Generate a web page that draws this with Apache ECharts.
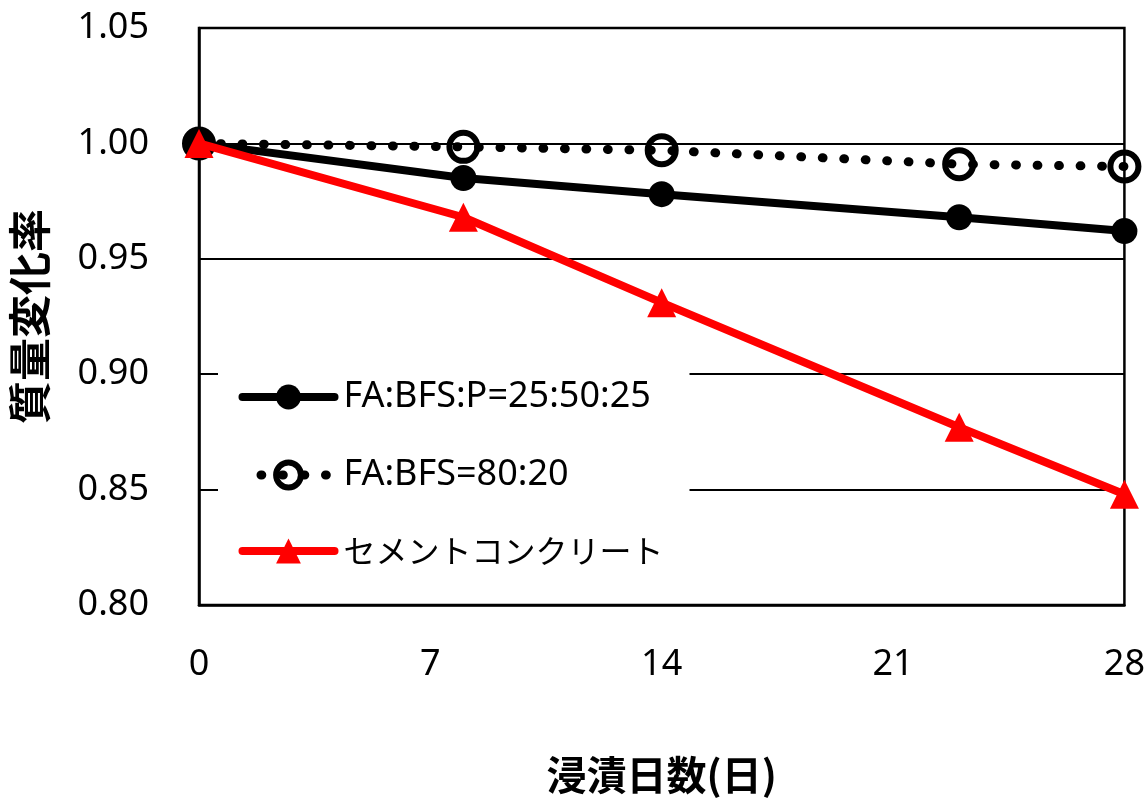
<!DOCTYPE html>
<html>
<head>
<meta charset="utf-8">
<script src="https://cdn.jsdelivr.net/npm/echarts@6/dist/echarts.min.js"></script>
<style>
  html, body { margin: 0; padding: 0; background: #fff; }
  #chart { width: 1148px; height: 800px; }
</style>
</head>
<body>
<div id="chart"></div>
<script>
// Immersion days for each measurement
const days = [0, 8, 14, 23, 28];

// Mass change ratio per mix
const fabfsp = [1.000, 0.985, 0.978, 0.968, 0.962];   // FA:BFS:P=25:50:25
const fabfs = [1.000, 0.9985, 0.997, 0.991, 0.990];   // FA:BFS=80:20
const cement = [1.000, 0.968, 0.931, 0.877, 0.848];   // セメントコンクリート

const seriesNames = ['FA:BFS:P=25:50:25', 'FA:BFS=80:20', 'セメントコンクリート'];

// Axis ticks
const xTicks = [0, 7, 14, 21, 28];
const yTicks = [0.80, 0.85, 0.90, 0.95, 1.00, 1.05];

const xTitle = '浸漬日数(日)';
const yTitle = '質量変化率';

const pairs = (xs, ys) => xs.map((x, i) => [x, ys[i]]);

const latin = "'Noto Sans', 'Noto Sans CJK JP', sans-serif";
const cjk = "'Noto Sans CJK JP', 'Noto Sans', sans-serif";

const dotted = [0.8, 20.7];

const chart = echarts.init(document.getElementById('chart'), null, { renderer: 'canvas' });

chart.setOption({
  animation: false,
  backgroundColor: '#fff',
  grid: {
    left: 195, top: 28, right: 20, bottom: 194,
    show: true, borderColor: '#000', borderWidth: 2.5, backgroundColor: 'transparent'
  },
  xAxis: {
    type: 'value',
    min: xTicks[0], max: xTicks[xTicks.length - 1],
    interval: xTicks[1] - xTicks[0],
    name: xTitle,
    nameLocation: 'middle',
    nameGap: 150,
    nameTextStyle: { fontFamily: cjk, fontWeight: 'bold', fontSize: 40, color: '#000' },
    axisLine: { show: true, onZero: false, lineStyle: { color: '#000', width: 2.5 } },
    axisTick: { show: false },
    splitLine: { show: false },
    axisLabel: { margin: 42, fontFamily: latin, fontSize: 36, color: '#000' }
  },
  yAxis: {
    type: 'value',
    min: yTicks[0], max: yTicks[yTicks.length - 1],
    interval: 0.05,
    name: yTitle,
    nameLocation: 'middle',
    nameGap: 148,
    nameRotate: 90,
    nameTextStyle: { fontFamily: cjk, fontWeight: 'bold', fontSize: 43, color: '#000' },
    axisLine: { show: true, lineStyle: { color: '#000', width: 2.5 } },
    axisTick: { show: false },
    splitLine: { show: true, lineStyle: { color: '#000', width: 2 } },
    axisLabel: {
      margin: 50, fontFamily: latin, fontSize: 36, color: '#000',
      formatter: v => v.toFixed(2)
    }
  },
  legend: {
    orient: 'vertical',
    left: 218,
    top: 356,
    padding: [23, 26, 22, 20],
    backgroundColor: '#fff',
    itemWidth: 92,
    itemHeight: 31,
    itemGap: 42,
    textStyle: { fontFamily: latin, fontSize: 36, color: '#000', padding: [0, 0, 0, 4] },
    lineStyle: { width: 8, cap: 'round' },
    data: [
      { name: seriesNames[0] },
      {
        name: seriesNames[1],
        itemStyle: { borderWidth: 6 },
        lineStyle: { width: 9, type: dotted, cap: 'round', dashOffset: 3 }
      },
      { name: seriesNames[2], textStyle: { fontFamily: cjk, fontSize: 32, padding: [0, 0, 0, 4] } }
    ]
  },
  series: [
    {
      name: seriesNames[0],
      type: 'line',
      data: pairs(days, fabfsp),
      symbol: 'circle',
      symbolSize: 26,
      lineStyle: { color: '#000', width: 8, cap: 'round' },
      itemStyle: { color: '#000' },
      z: 2
    },
    {
      name: seriesNames[1],
      type: 'line',
      data: pairs(days, fabfs),
      symbol: 'circle',
      symbolSize: 28,
      lineStyle: { color: '#000', width: 9, type: dotted, cap: 'round' },
      itemStyle: { color: 'rgba(0,0,0,0)', borderColor: '#000', borderWidth: 6 },
      z: 3
    },
    {
      name: seriesNames[2],
      type: 'line',
      data: pairs(days, cement),
      symbol: 'triangle',
      symbolSize: 29,
      lineStyle: { color: '#ff0000', width: 8, cap: 'round' },
      itemStyle: { color: '#ff0000' },
      z: 4
    }
  ]
});
</script>
</body>
</html>
